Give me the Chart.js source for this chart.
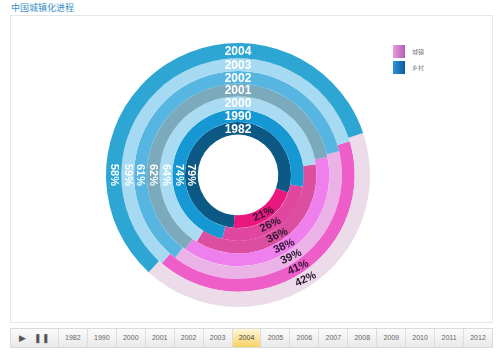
<!DOCTYPE html>
<html>
<head>
<meta charset="utf-8">
<script src="https://cdn.jsdelivr.net/npm/chart.js@4"></script>
<style>
  body { margin: 0; width: 500px; height: 353px; background: #fff; position: relative; overflow: hidden; font-family: "Liberation Sans", Arial, sans-serif; }
  #title { position: absolute; left: 11px; top: 1px; font: 9px "Noto Sans CJK SC", sans-serif; color: #3a8fc8; }
  #panel { position: absolute; left: 10px; top: 15px; width: 481px; height: 306px; border: 1px solid #e6e6e6; }
  #chart { position: absolute; left: 0; top: 0; }
  .lg { position: absolute; left: 393px; width: 12px; height: 13px; }
  .lgt { position: absolute; left: 412px; font: 6px "Noto Sans CJK SC", sans-serif; color: #777; }
  #timeline { position: absolute; left: 10px; top: 328px; width: 481px; height: 18px; border: 1px solid #dadada;
    background: linear-gradient(#fbfbfb, #e9e9e9); display: flex; }
  #timeline div { height: 18px; line-height: 18px; text-align: center; font-size: 7px; color: #666; border-left: 1px solid #dcdcdc; box-sizing: border-box; }
  #timeline .on { background: linear-gradient(#fff7d6, #f8d164); color: #444; }
</style>
</head>
<body>
<div id="title">中国城镇化进程</div>
<div id="panel"></div>
<canvas id="chart" width="500" height="353"></canvas>
<div class="lg" style="top:45px;background:linear-gradient(90deg,#e99bdb,#b45cb6)"></div>
<div class="lgt" style="top:47px">城镇</div>
<div class="lg" style="top:61px;background:linear-gradient(90deg,#2e93d8,#0b5b9e)"></div>
<div class="lgt" style="top:63px">乡村</div>
<div id="timeline"></div>
<script>
// data, innermost ring first
const years = ['1982', '1990', '2000', '2001', '2002', '2003', '2004'];
const urban = [21, 26, 36, 38, 39, 41, 42];
const rural = [79, 74, 64, 62, 61, 59, 58];
const timelineYears = ['1982', '1990', '2000', '2001', '2002', '2003', '2004', '2005',
  '2006', '2007', '2008', '2009', '2010', '2011', '2012'];
const currentYear = '2004';

const urbanColors = ['#e8187f', '#e2479f', '#dc4fa0', '#ef7fec', '#ebb2e8', '#ee5ec8', '#ecdbe8'];
const ruralColors = ['#0d5985', '#1598d4', '#a9dcf3', '#7caabd', '#57b6e1', '#a6daf2', '#2ea6d3'];

// timeline bar
const tl = document.getElementById('timeline');
const ctrl = document.createElement('div');
ctrl.style.width = '47px';
ctrl.style.borderLeft = 'none';
ctrl.style.fontSize = '9px';
ctrl.style.color = '#555';
ctrl.innerHTML = '&#9654;&nbsp;&nbsp;&nbsp;&#10074;&#10074;';
tl.appendChild(ctrl);
timelineYears.forEach(function (y) {
  const d = document.createElement('div');
  d.style.width = '29px';
  d.textContent = y;
  if (y === currentYear) d.className = 'on';
  tl.appendChild(d);
});

// Chart.js puts dataset 0 on the outside, so go from 2004 inward
const datasets = [];
for (let i = years.length - 1; i >= 0; i--) {
  datasets.push({
    label: years[i],
    data: [urban[i], rural[i]],
    backgroundColor: [urbanColors[i], ruralColors[i]],
    borderWidth: 0,
    weight: i === years.length - 1 ? 1.2 : 1,
    rotation: 147 - urban[i] * 1.8 // centre the urban slice low right
  });
}

const ringLabels = {
  id: 'ringLabels',
  afterDatasetsDraw(chart) {
    const ctx = chart.ctx;
    ctx.save();
    ctx.textAlign = 'center';
    ctx.textBaseline = 'middle';
    chart.data.datasets.forEach(function (ds, i) {
      const arc = chart.getDatasetMeta(i).data[0];
      const p = arc.getProps(['x', 'y', 'startAngle', 'endAngle', 'innerRadius', 'outerRadius']);
      const r = (p.innerRadius + p.outerRadius) / 2;
      // year on top
      ctx.font = 'bold 12px "Liberation Sans", Arial';
      ctx.fillStyle = '#fff';
      ctx.fillText(ds.label, p.x, p.y - r + 1);
      // rural share on the left
      ctx.font = 'bold 11px "Liberation Sans", Arial';
      ctx.save();
      ctx.translate(p.x - r, p.y);
      ctx.rotate(Math.PI / 2);
      ctx.fillText(ds.data[1] + '%', 0, 0);
      ctx.restore();
      // urban share in the middle of its slice
      const mid = (p.startAngle + p.endAngle) / 2;
      ctx.save();
      ctx.translate(p.x + Math.cos(mid) * r, p.y + Math.sin(mid) * r);
      ctx.rotate(-25 * Math.PI / 180);
      ctx.fillStyle = '#2b1630';
      ctx.fillText(ds.data[0] + '%', 0, 0);
      ctx.restore();
    });
    ctx.restore();
  }
};

new Chart(document.getElementById('chart').getContext('2d'), {
  type: 'doughnut',
  data: { labels: ['城镇', '乡村'], datasets: datasets },
  options: {
    responsive: false,
    animation: false,
    radius: 132,
    cutout: '30.5%',
    layout: { padding: { left: 0, right: 24, top: 0, bottom: 3 } },
    plugins: { legend: { display: false }, tooltip: { enabled: false } }
  },
  plugins: [ringLabels]
});
</script>
</body>
</html>
